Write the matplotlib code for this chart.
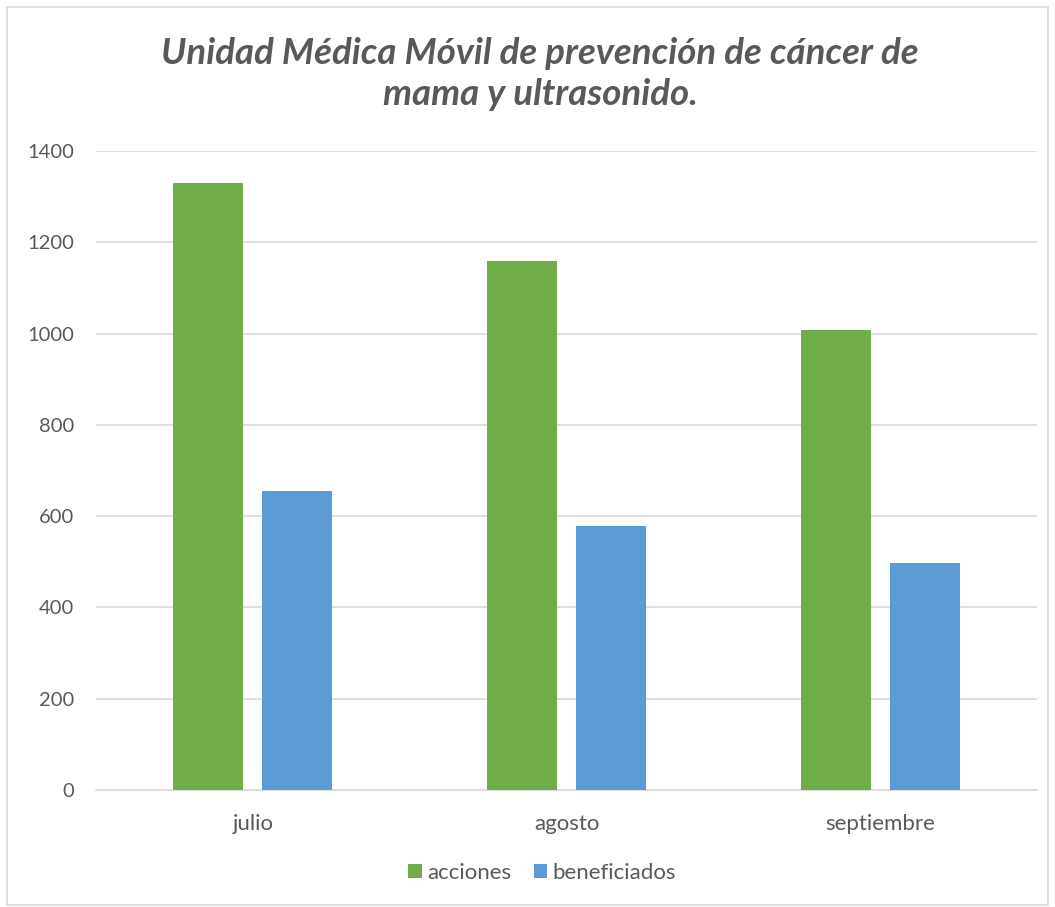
import matplotlib.pyplot as plt
import numpy as np

meses = ['julio', 'agosto', 'septiembre']
acciones = [1330, 1160, 1008]
beneficiados = [655, 578, 497]
y_ticks = [0, 200, 400, 600, 800, 1000, 1200, 1400]

plt.rcParams['font.family'] = ['Lato', 'DejaVu Sans']
gris = '#595959'

fig = plt.figure(figsize=(10.55, 9.07), dpi=100)
ax = fig.add_axes([96 / 1055, 1 - 790 / 907, (1037 - 96) / 1055, (790 - 151) / 907])

x = np.arange(len(meses))
w = 0.223
off = 0.142
ax.bar(x - off, acciones, w, color='#70ad47', label='acciones', zorder=3)
ax.bar(x + off, beneficiados, w, color='#5b9bd5', label='beneficiados', zorder=3)

ax.set_xlim(-0.5, 2.5)
ax.set_ylim(0, 1400)
ax.set_yticks(y_ticks)
ax.set_xticks(x)
ax.set_xticklabels(meses)
ax.tick_params(axis='both', length=0, colors=gris)
ax.tick_params(axis='y', pad=16, labelsize=14.5)
ax.tick_params(axis='x', pad=17, labelsize=16)
ax.grid(axis='y', color='#d9d9d9', linewidth=1.2, zorder=0)
for s in ['top', 'right', 'left']:
    ax.spines[s].set_visible(False)
ax.spines['bottom'].set_color('#d9d9d9')
ax.spines['bottom'].set_linewidth(1.2)

fig.text(0.512, 1 - 74 / 907, 'Unidad Médica Móvil de prevención de cáncer de\nmama y ultrasonido.',
         ha='center', va='center', fontsize=26.4, fontstyle='italic', fontweight='bold',
         color=gris, linespacing=1.3)

fig.legend(loc='center', bbox_to_anchor=(0.514, 1 - 873 / 907), ncol=2, frameon=False,
           fontsize=16, labelcolor=gris, handlelength=0.6, handleheight=0.6,
           handletextpad=0.25, columnspacing=1.0)

# borde del gráfico
fig.add_artist(plt.Rectangle((7 / 1055, 0.002), 1 - 14 / 1055, 1 - 9 / 907,
                             transform=fig.transFigure, fill=False,
                             edgecolor='#d9d9d9', linewidth=1.2))

fig.savefig('out.png', dpi=100)
